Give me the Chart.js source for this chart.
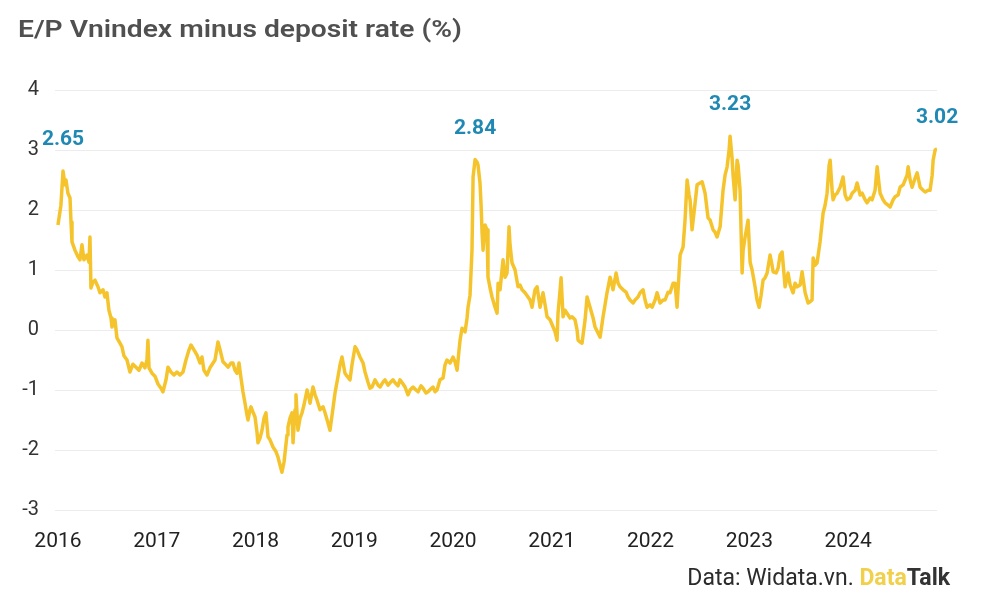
<!DOCTYPE html>
<html><head><meta charset="utf-8">
<script src="https://cdn.jsdelivr.net/npm/chart.js@4.4.1/dist/chart.umd.min.js"></script>
<style>html,body{margin:0;padding:0;background:#fff;}#wrap{width:999px;height:597px;position:relative;}</style>
</head><body><div id="wrap"><canvas id="c" width="999" height="597"></canvas></div>
<script>
const titleText = 'E/P Vnindex minus deposit rate (%)';
const yearTicks = [2016, 2017, 2018, 2019, 2020, 2021, 2022, 2023, 2024];
const yTicks = [-3, -2, -1, 0, 1, 2, 3, 4];

const dates = [
2016.000,2016.030,2016.051,2016.071,2016.081,2016.101,2016.122,2016.132,2016.142,2016.172,2016.203,2016.223,2016.243,2016.263,2016.294,2016.314,2016.324,2016.334,2016.354,2016.375,2016.405,2016.425,2016.456,2016.476,2016.496,2016.516,2016.537,2016.547,2016.577,2016.597,2016.628,2016.648,2016.668,2016.699,2016.729,2016.759,2016.790,2016.820,2016.851,2016.881,2016.901,2016.911,2016.922,2016.952,2016.982,
2017.013,2017.043,2017.063,2017.094,2017.114,2017.144,2017.175,2017.205,2017.235,2017.266,2017.296,2017.327,2017.347,2017.377,2017.408,2017.438,2017.458,2017.478,2017.509,2017.539,2017.559,2017.590,2017.620,2017.641,2017.671,2017.701,2017.722,2017.752,2017.772,2017.792,2017.813,2017.833,2017.853,2017.873,2017.894,2017.914,2017.924,2017.944,2017.954,2017.975,2017.995,
2018.015,2018.025,2018.046,2018.066,2018.086,2018.106,2018.127,2018.147,2018.177,2018.208,2018.228,2018.248,2018.268,2018.289,2018.299,2018.319,2018.329,2018.349,2018.370,2018.380,2018.400,2018.410,2018.430,2018.451,2018.471,2018.491,2018.522,2018.542,2018.552,2018.582,2018.603,2018.623,2018.653,2018.684,2018.704,2018.734,2018.754,2018.775,2018.805,2018.835,2018.856,2018.876,2018.906,2018.927,2018.957,2018.977,
2019.008,2019.028,2019.058,2019.089,2019.109,2019.139,2019.159,2019.180,2019.210,2019.241,2019.261,2019.291,2019.311,2019.342,2019.362,2019.392,2019.413,2019.443,2019.463,2019.494,2019.514,2019.544,2019.565,2019.595,2019.625,2019.646,2019.676,2019.696,2019.727,2019.747,2019.777,2019.797,2019.818,2019.838,2019.868,2019.899,2019.919,2019.939,2019.970,
2020.000,2020.020,2020.041,2020.061,2020.071,2020.091,2020.122,2020.142,2020.152,2020.172,2020.192,2020.203,2020.223,2020.243,2020.253,2020.273,2020.284,2020.294,2020.304,2020.324,2020.344,2020.354,2020.375,2020.395,2020.425,2020.446,2020.456,2020.476,2020.496,2020.506,2020.527,2020.547,2020.567,2020.577,2020.597,2020.628,2020.658,2020.678,2020.699,2020.729,2020.759,2020.780,2020.800,2020.830,2020.851,2020.881,2020.911,2020.932,2020.952,2020.982,
2021.013,2021.033,2021.053,2021.063,2021.084,2021.094,2021.114,2021.134,2021.154,2021.185,2021.205,2021.235,2021.256,2021.266,2021.286,2021.306,2021.337,2021.357,2021.387,2021.418,2021.438,2021.468,2021.489,2021.519,2021.539,2021.559,2021.590,2021.610,2021.620,2021.651,2021.671,2021.691,2021.722,2021.752,2021.772,2021.792,2021.823,2021.843,2021.873,2021.894,2021.924,2021.944,2021.965,2021.995,
2022.015,2022.046,2022.066,2022.096,2022.127,2022.147,2022.177,2022.197,2022.228,2022.248,2022.268,2022.299,2022.329,2022.349,2022.370,2022.390,2022.400,2022.420,2022.451,2022.471,2022.501,2022.522,2022.552,2022.582,2022.603,2022.633,2022.653,2022.673,2022.704,2022.734,2022.754,2022.775,2022.795,2022.805,2022.825,2022.835,2022.856,2022.876,2022.886,2022.906,2022.927,2022.937,2022.957,2022.987,
2023.008,2023.028,2023.058,2023.078,2023.099,2023.119,2023.139,2023.159,2023.180,2023.210,2023.230,2023.241,2023.271,2023.291,2023.311,2023.332,2023.362,2023.392,2023.413,2023.443,2023.463,2023.484,2023.514,2023.534,2023.565,2023.595,2023.615,2023.635,2023.646,2023.666,2023.686,2023.716,2023.747,2023.767,2023.787,2023.808,2023.818,2023.838,2023.848,2023.868,2023.889,2023.919,2023.949,2023.970,2023.990,
2024.020,2024.041,2024.071,2024.091,2024.122,2024.142,2024.172,2024.192,2024.223,2024.243,2024.273,2024.294,2024.314,2024.324,2024.354,2024.375,2024.405,2024.425,2024.456,2024.476,2024.506,2024.527,2024.557,2024.577,2024.597,2024.608,2024.628,2024.648,2024.678,2024.699,2024.729,2024.759,2024.780,2024.810,2024.830,2024.851,2024.861,2024.881,2024.901
];

const values = [
1.75,2.08,2.65,2.42,2.5,2.28,2.2,1.8,1.47,1.33,1.22,1.17,1.42,1.17,1.25,1.13,1.55,0.7,0.8,0.83,0.72,0.62,0.67,0.55,0.62,0.33,0.2,0.05,0.17,-0.13,-0.22,-0.28,-0.43,-0.5,-0.7,-0.57,-0.62,-0.67,-0.55,-0.63,-0.5,-0.17,-0.63,-0.72,-0.77,
-0.9,-0.97,-1.03,-0.83,-0.62,-0.7,-0.75,-0.7,-0.75,-0.7,-0.5,-0.33,-0.25,-0.33,-0.42,-0.55,-0.45,-0.67,-0.75,-0.63,-0.58,-0.5,-0.2,-0.33,-0.53,-0.58,-0.62,-0.55,-0.55,-0.67,-0.72,-0.55,-0.8,-1.03,-1.22,-1.42,-1.5,-1.33,-1.28,-1.37,-1.45,
-1.7,-1.88,-1.8,-1.67,-1.47,-1.38,-1.78,-1.83,-1.95,-2.03,-2.12,-2.25,-2.37,-2.2,-2.05,-1.75,-1.62,-1.47,-1.38,-1.88,-1.33,-1.08,-1.67,-1.47,-1.38,-1.25,-1.0,-1.13,-1.22,-0.95,-1.08,-1.17,-1.33,-1.28,-1.38,-1.55,-1.67,-1.42,-1.05,-0.78,-0.58,-0.45,-0.72,-0.77,-0.83,-0.58,
-0.28,-0.33,-0.45,-0.55,-0.7,-0.87,-0.97,-0.95,-0.83,-0.92,-0.95,-0.87,-0.83,-0.92,-0.88,-0.83,-0.88,-0.93,-0.83,-0.9,-0.95,-1.08,-1.0,-0.95,-1.0,-1.03,-0.93,-0.97,-1.05,-1.03,-0.98,-0.95,-1.03,-1.0,-0.83,-0.8,-0.58,-0.5,-0.55,
-0.45,-0.53,-0.67,-0.33,-0.17,0.03,-0.03,0.2,0.38,0.58,1.33,2.55,2.84,2.8,2.75,2.45,2.08,1.62,1.33,1.75,1.67,0.88,0.7,0.55,0.38,0.28,0.78,0.67,1.0,1.17,0.88,0.95,1.72,1.42,1.12,1.0,0.72,0.75,0.67,0.62,0.55,0.5,0.38,0.67,0.72,0.38,0.62,0.42,0.22,0.17,
0.05,-0.03,-0.17,0.28,0.67,0.87,0.22,0.33,0.28,0.2,0.22,0.17,0,-0.17,-0.2,-0.22,0.17,0.55,0.38,0.2,0.05,-0.05,-0.12,0.22,0.42,0.62,0.88,0.75,0.67,0.95,0.78,0.72,0.67,0.63,0.55,0.5,0.45,0.5,0.55,0.62,0.67,0.5,0.38,0.42,
0.38,0.5,0.62,0.45,0.5,0.5,0.63,0.62,0.78,0.78,0.38,1.25,1.38,1.83,2.5,2.25,2.17,1.67,2.12,2.42,2.45,2.47,2.28,1.87,1.83,1.67,1.63,1.55,1.72,2.33,2.58,2.72,3.0,3.23,2.87,2.58,2.17,2.83,2.75,2.33,0.95,1.33,1.55,1.83,
1.13,1.0,0.72,0.5,0.38,0.58,0.83,0.87,0.95,1.25,1.08,0.97,0.95,1.03,1.25,1.3,0.72,0.95,0.75,0.62,0.78,0.72,0.75,0.97,0.62,0.45,0.47,0.5,1.2,1.08,1.12,1.47,1.95,2.08,2.28,2.75,2.83,2.33,2.17,2.25,2.28,2.38,2.55,2.25,2.17,
2.2,2.28,2.33,2.45,2.25,2.28,2.17,2.12,2.2,2.17,2.33,2.72,2.42,2.28,2.17,2.12,2.08,2.05,2.17,2.22,2.25,2.38,2.42,2.5,2.58,2.72,2.5,2.38,2.53,2.62,2.38,2.33,2.3,2.33,2.33,2.58,2.83,3.0,3.02
];

const peakLabels = ['2.65', '2.84', '3.23', '3.02'];
const peakDates = [2016.051, 2020.223, 2022.805, 2024.901];
const peakValues = [2.65, 2.84, 3.23, 3.02];

const sourceText = 'Data: Widata.vn. ';
const brandA = 'Data';
const brandB = 'Talk';

function fitText(ctx, text, x, y, targetWidth) {
  const w = ctx.measureText(text).width;
  ctx.save();
  ctx.translate(x, y);
  ctx.scale(targetWidth / w, 1);
  ctx.fillText(text, 0, 0);
  ctx.restore();
}

const overlay = {
  id: 'overlay',
  afterDatasetsDraw(chart) {
    const ctx = chart.ctx, xs = chart.scales.x, ys = chart.scales.y;
    ctx.save();
    ctx.font = 'bold 21px Roboto, "Noto Sans", sans-serif';
    ctx.fillStyle = '#2089b3';
    ctx.textAlign = 'center';
    ctx.textBaseline = 'middle';
    peakLabels.forEach((t, i) => {
      ctx.fillText(t, xs.getPixelForValue(peakDates[i]), ys.getPixelForValue(peakValues[i]) - 31);
    });
    // title
    ctx.textAlign = 'left';
    ctx.textBaseline = 'alphabetic';
    ctx.fillStyle = '#505050';
    ctx.font = '600 24px Roboto, "Noto Sans", sans-serif';
    fitText(ctx, titleText, 18, 37, 444);
    // footer
    const right = 950, base = 585;
    ctx.font = 'bold 23px Roboto, sans-serif';
    const wB = ctx.measureText(brandB).width;
    const wA = ctx.measureText(brandA).width;
    ctx.fillStyle = '#333';
    ctx.fillText(brandB, right - wB, base);
    ctx.fillStyle = '#f1d04c';
    ctx.fillText(brandA, right - wB - wA, base);
    ctx.font = '23px Roboto, sans-serif';
    const wS = ctx.measureText(sourceText).width;
    ctx.fillStyle = '#2b2b2b';
    ctx.fillText(sourceText, right - wB - wA - wS, base);
    ctx.restore();
  }
};

new Chart(document.getElementById('c'), {
  type: 'line',
  data: {
    datasets: [{
      data: dates.map((d, i) => ({ x: d, y: values[i] })),
      borderColor: '#f5c42c',
      borderWidth: 3.5,
      pointRadius: 0,
      tension: 0,
      fill: false,
      borderJoinStyle: 'round'
    }]
  },
  options: {
    responsive: false,
    animation: false,
    events: [],
    layout: { padding: { left: 0, right: 62, top: 90, bottom: 27 } },
    plugins: { legend: { display: false }, tooltip: { enabled: false }, title: { display: false } },
    scales: {
      x: {
        type: 'linear', min: 2015.97, max: 2024.9,
        afterBuildTicks: s => { s.ticks = yearTicks.map(v => ({ value: v })); },
        afterFit: s => { s.height = 60; },
        grid: { display: false, drawTicks: false },
        border: { display: false },
        ticks: { font: { size: 21, family: 'Roboto' }, color: '#222', padding: 19, maxRotation: 0, autoSkip: false, callback: v => String(v) }
      },
      y: {
        min: -3, max: 4,
        afterBuildTicks: s => { s.ticks = yTicks.map(v => ({ value: v })); },
        afterFit: s => { s.width = 55; },
        grid: { color: '#ececec', drawTicks: false },
        border: { display: false },
        ticks: { font: { size: 20, family: 'Roboto' }, color: '#333', padding: 16, callback: v => String(v) }
      }
    }
  },
  plugins: [overlay]
});
</script>
</body></html>
